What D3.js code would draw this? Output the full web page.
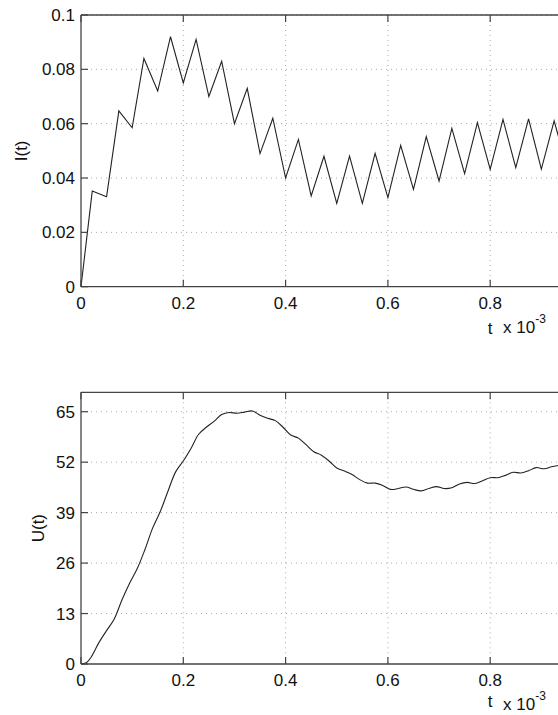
<!DOCTYPE html>
<html>
<head>
<meta charset="utf-8">
<script src="https://cdn.jsdelivr.net/npm/d3@7"></script>
<style>
  body { margin: 0; background: #fff; }
  text { font-family: "Liberation Sans", Arial, sans-serif; fill: #111; }
</style>
</head>
<body>
<div id="vis-container"></div>
<script>
// time axis in units of 1e-3 s (axis runs to 1, picture is cut before it)
let xTicks = [0, 0.2, 0.4, 0.6, 0.8, 1];
let xLabels = [0, 0.2, 0.4, 0.6, 0.8];

// current I(t), zigzag from the pulsed source
let iTime = [0, 0.022, 0.05, 0.074, 0.1, 0.123, 0.15, 0.175, 0.2, 0.225, 0.25, 0.275, 0.3, 0.325,
  0.35, 0.375, 0.4, 0.425, 0.45, 0.475, 0.5, 0.525, 0.55, 0.575, 0.6, 0.625, 0.65, 0.675,
  0.7, 0.725, 0.75, 0.775, 0.8, 0.825, 0.85, 0.875, 0.9, 0.925, 0.95];
let iValue = [0, 0.0352, 0.0331, 0.0647, 0.0585, 0.084, 0.072, 0.092, 0.075, 0.091, 0.070, 0.083, 0.060, 0.073,
  0.049, 0.062, 0.040, 0.0542, 0.0334, 0.048, 0.0307, 0.0481, 0.0307, 0.0491, 0.0328, 0.052, 0.0358, 0.0552,
  0.0389, 0.0583, 0.0416, 0.0604, 0.0432, 0.0616, 0.0438, 0.0618, 0.0433, 0.061, 0.044];
let iTicks = [0, 0.02, 0.04, 0.06, 0.08, 0.1];

// voltage U(t)
let uTime = [0, 0.01, 0.02, 0.035, 0.05, 0.065, 0.08, 0.095, 0.11, 0.125, 0.14, 0.155, 0.17, 0.185,
  0.2, 0.215, 0.23, 0.245, 0.26, 0.275, 0.29, 0.305, 0.32, 0.335, 0.35, 0.365, 0.38, 0.395,
  0.41, 0.425, 0.44, 0.455, 0.47, 0.485, 0.5, 0.515, 0.53, 0.545, 0.56, 0.575, 0.59, 0.605,
  0.62, 0.635, 0.65, 0.665, 0.68, 0.695, 0.71, 0.725, 0.74, 0.755, 0.77, 0.785, 0.8, 0.815,
  0.83, 0.845, 0.86, 0.875, 0.89, 0.905, 0.92, 0.935];
let uValue = [0, 0.3, 1.8, 5.5, 8.6, 11.6, 16.5, 20.8, 24.6, 29.5, 35, 39.3, 44.5, 49.5,
  52.3, 55.5, 59.2, 61, 62.5, 64.3, 64.8, 64.6, 64.9, 65.2, 64.1, 63.3, 62.7, 61,
  59, 58.2, 56.5, 54.7, 53.8, 52.3, 50.5, 49.7, 48.8, 47.5, 46.6, 46.6, 46, 45,
  45.2, 45.6, 45, 44.6, 45.2, 45.7, 45.2, 45.4, 46.4, 46.8, 46.5, 47.2, 48, 48,
  48.6, 49.4, 49.2, 49.8, 50.6, 50.3, 50.8, 51.2];
let uTicks = [0, 13, 26, 39, 52, 65];

let svg = d3.select("#vis-container")
  .append("svg")
  .attr("width", 558)
  .attr("height", 715);

svg.append("rect").attr("width", 558).attr("height", 715).attr("fill", "#fff");

// both panels share the same time scale
let x = d3.scaleLinear().domain([0, 1]).range([81, 592.5]);

const drawPanel = function(opts) {
  let y = d3.scaleLinear().domain(opts.yDomain).range([opts.bottom, opts.top]);
  let g = svg.append("g");

  // dotted grid
  g.selectAll(".gx").data(xTicks.slice(1)).enter().append("line")
    .attr("x1", d => x(d)).attr("x2", d => x(d))
    .attr("y1", opts.top).attr("y2", opts.bottom)
    .attr("stroke", "#aaa").attr("stroke-dasharray", "1,4");
  g.selectAll(".gy").data(opts.yTicks.slice(1)).enter().append("line")
    .attr("x1", x(0)).attr("x2", x(1))
    .attr("y1", d => y(d)).attr("y2", d => y(d))
    .attr("stroke", "#aaa").attr("stroke-dasharray", "1,4");

  // data line
  g.append("path")
    .datum(d3.zip(opts.t, opts.v))
    .attr("fill", "none")
    .attr("stroke", "#222")
    .attr("stroke-width", 1.1)
    .attr("d", d3.line().x(d => x(d[0])).y(d => y(d[1])).curve(opts.curve));

  // box and inward ticks
  let axisCol = "#444";
  g.append("line").attr("x1", x(0)).attr("x2", x(1)).attr("y1", opts.top).attr("y2", opts.top)
    .attr("stroke", axisCol).attr("stroke-width", 1.3);
  g.append("line").attr("x1", x(0)).attr("x2", x(1)).attr("y1", opts.bottom).attr("y2", opts.bottom)
    .attr("stroke", axisCol).attr("stroke-width", 1.3);
  g.append("line").attr("x1", x(0)).attr("x2", x(0)).attr("y1", opts.top).attr("y2", opts.bottom)
    .attr("stroke", axisCol).attr("stroke-width", 1.3);

  g.selectAll(".tb").data(xTicks).enter().append("line")
    .attr("x1", d => x(d)).attr("x2", d => x(d))
    .attr("y1", opts.bottom).attr("y2", opts.bottom - 7)
    .attr("stroke", axisCol).attr("stroke-width", 1.2);
  g.selectAll(".tt").data(xTicks).enter().append("line")
    .attr("x1", d => x(d)).attr("x2", d => x(d))
    .attr("y1", opts.top).attr("y2", opts.top + 7)
    .attr("stroke", axisCol).attr("stroke-width", 1.2);
  g.selectAll(".tl").data(opts.yTicks).enter().append("line")
    .attr("x1", x(0)).attr("x2", x(0) + 7)
    .attr("y1", d => y(d)).attr("y2", d => y(d))
    .attr("stroke", axisCol).attr("stroke-width", 1.2);

  // tick labels
  g.selectAll(".xl").data(xLabels).enter().append("text")
    .attr("x", d => x(d)).attr("y", opts.bottom + 22)
    .attr("text-anchor", "middle").attr("font-size", "17px")
    .text(d => d3.format("~g")(d));
  g.selectAll(".yl").data(opts.yTicks).enter().append("text")
    .attr("x", 75).attr("y", d => y(d) + 6)
    .attr("text-anchor", "end").attr("font-size", "17px")
    .text(d => d3.format("~g")(d));

  // axis labels
  g.append("text")
    .attr("transform", `translate(${opts.ylabelX},${(opts.top + opts.bottom) / 2}) rotate(-90)`)
    .attr("text-anchor", "middle").attr("font-size", "17px")
    .text(opts.ylabel);
  g.append("text").attr("x", 490).attr("y", opts.tY)
    .attr("text-anchor", "middle").attr("font-size", "17px").text("t");
  let ex = g.append("text").attr("x", 503).attr("y", opts.expY).attr("font-size", "17px");
  ex.append("tspan").text("x 10");
  ex.append("tspan").attr("dy", -10).attr("font-size", "12px").text("-3");
};

drawPanel({
  top: 15, bottom: 286.7, yDomain: [0, 0.1], yTicks: iTicks,
  t: iTime, v: iValue, curve: d3.curveLinear,
  ylabel: "I(t)", ylabelX: 27, tY: 334, expY: 333
});

drawPanel({
  top: 392.3, bottom: 664, yDomain: [0, 70], yTicks: uTicks,
  t: uTime, v: uValue, curve: d3.curveCatmullRom,
  ylabel: "U(t)", ylabelX: 44, tY: 707, expY: 710
});
</script>
</body>
</html>
